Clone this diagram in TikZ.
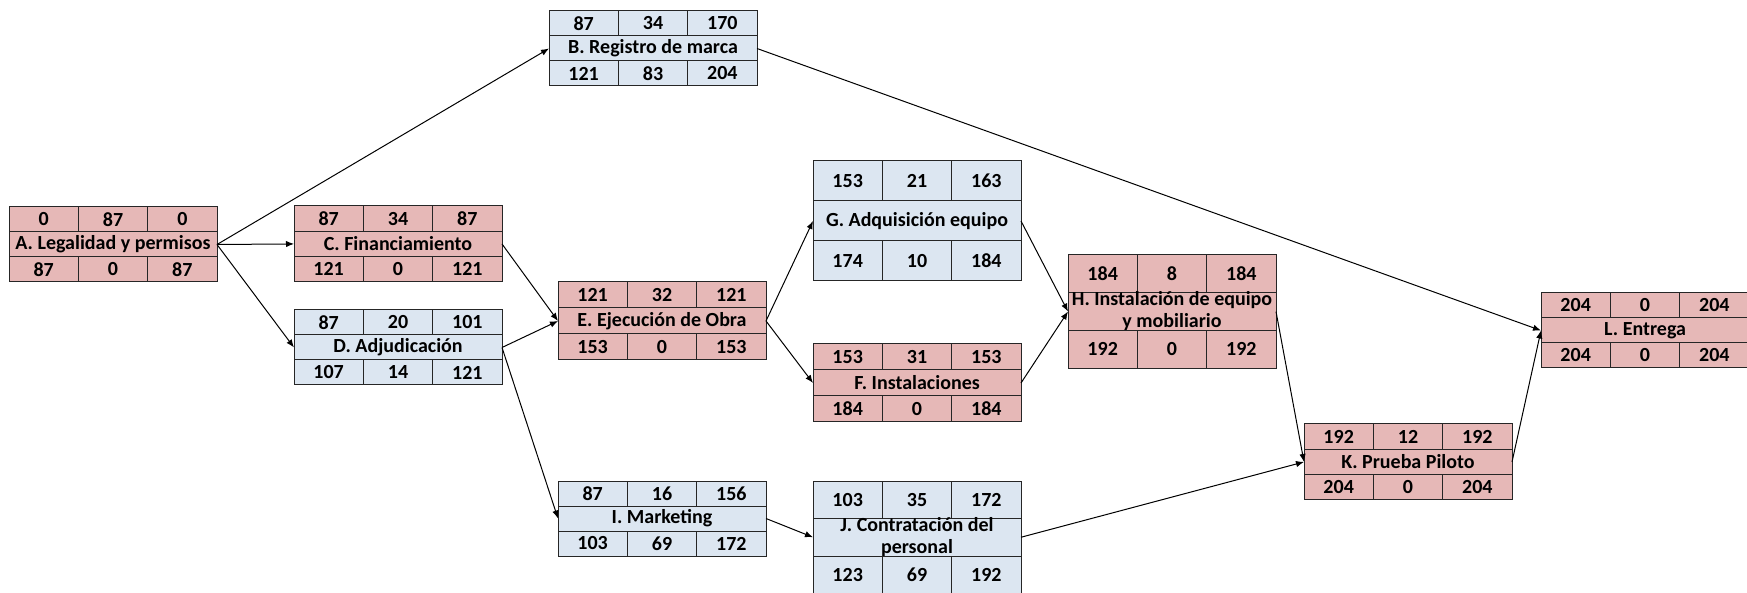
\documentclass[tikz,border=0pt]{standalone}
\usepackage{fontspec}
\setmainfont{Carlito}
\usetikzlibrary{calc,arrows.meta}
\definecolor{rutarosa}{RGB}{230,184,183}
\definecolor{holgazul}{RGB}{220,230,241}

\tikzset{
  celda/.style={draw=black!85, line width=0.5pt, rectangle, inner sep=0pt, outer sep=0pt,
    minimum width=34.67pt, font=\fontsize{10}{11}\selectfont\bfseries},
  fila/.style={draw=black!85, line width=0.5pt, rectangle, inner sep=0pt, outer sep=0pt,
    minimum width=104pt},
  titulo/.style={inner sep=0pt, align=center, font=\fontsize{10}{11}\selectfont\bfseries},
  flecha/.style={-{Latex[length=4pt,width=3.2pt]}, line width=0.5pt},
}

% #1 nombre, #2 x izq, #3 y sup (px), #4 alto de fila (px), #5 color,
% #6 valores arriba, #7 actividad, #8 valores abajo
\newcommand{\actividad}[8]{%
  \foreach \v [count=\i] in {#6}
    \node[celda, fill=#5, minimum height=#4*0.5pt, anchor=north west] (#1a\i)
      at ({#2+(\i-1)*69.33}, #3) {\v};
  \node[fila, fill=#5, minimum height=#4*0.5pt, anchor=north west] (#1) at (#2, #3+#4) {};
  \node[titulo] (#1t) at (#1.center) {#7};
  \foreach \v [count=\i] in {#8}
    \node[celda, fill=#5, minimum height=#4*0.5pt, anchor=north west] (#1b\i)
      at ({#2+(\i-1)*69.33}, #3+2*#4) {\v};
}

\begin{document}
\begin{tikzpicture}[x=0.5pt, y=-0.5pt]
  \useasboundingbox (0,0) rectangle (1747,593);

  \actividad{A}{9}{207}{25}{rutarosa}{0,87,0}{A. Legalidad y permisos}{87,0,87}
  \actividad{B}{549}{11}{25}{holgazul}{87,34,170}{B. Registro de marca}{121,83,204}
  \actividad{C}{294}{206}{25.3}{rutarosa}{87,34,87}{C. Financiamiento}{121,0,121}
  \actividad{D}{294}{310}{25}{holgazul}{87,20,101}{D. Adjudicación}{107,14,121}
  \actividad{E}{558}{282}{26}{rutarosa}{121,32,121}{E. Ejecución de Obra}{153,0,153}
  \actividad{F}{813}{344}{26}{rutarosa}{153,31,153}{F. Instalaciones}{184,0,184}
  \actividad{G}{813}{161}{40}{holgazul}{153,21,163}{G. Adquisición equipo}{174,10,184}
  \actividad{H}{1068}{255}{37.7}{rutarosa}{184,8,184}{H. Instalación de equipo\\y mobiliario}{192,0,192}
  \actividad{I}{558}{481}{25}{holgazul}{87,16,156}{I. Marketing}{103,69,172}
  \actividad{J}{813}{481}{37.5}{holgazul}{103,35,172}{J. Contratación del\\personal}{123,69,192}
  \actividad{K}{1304}{424}{25.3}{rutarosa}{192,12,192}{K. Prueba Piloto}{204,0,204}
  \actividad{L}{1541}{293}{25}{rutarosa}{204,0,204}{L. Entrega}{204,0,204}

  % precedencias
  \draw[flecha] (A.east) -- (B.west);
  \draw[flecha] (A.east) -- (C.west);
  \draw[flecha] (A.east) -- (D.west);
  \draw[flecha] (B.east) -- (L.west);
  \draw[flecha] (C.east) -- (E.west);
  \draw[flecha] (D.east) -- (E.west);
  \draw[flecha] (D.east) -- (I.west);
  \draw[flecha] (E.east) -- (G.west);
  \draw[flecha] (E.east) -- (F.west);
  \draw[flecha] (G.east) -- (H.west);
  \draw[flecha] (F.east) -- (H.west);
  \draw[flecha] (H.east) -- (K.west);
  \draw[flecha] (I.east) -- (J.west);
  \draw[flecha] (J.east) -- (K.west);
  \draw[flecha] (K.east) -- (L.west);
\end{tikzpicture}
\end{document}
